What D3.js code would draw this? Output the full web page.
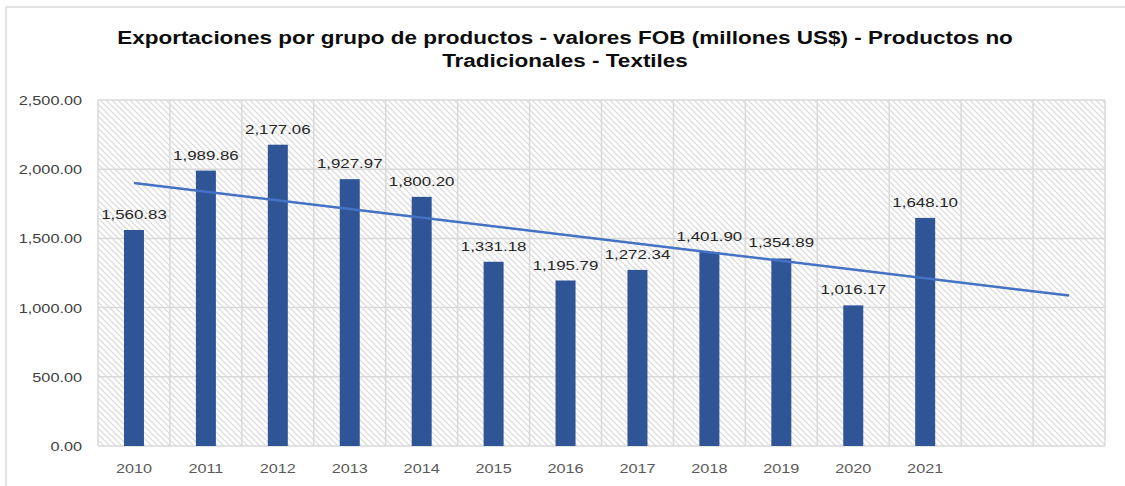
<!DOCTYPE html>
<html>
<head>
<meta charset="utf-8">
<script src="https://cdn.jsdelivr.net/npm/d3@7"></script>
<style>
  body { margin: 0; background: #fff; }
  text { font-family: "Liberation Sans", Arial, sans-serif; }
</style>
</head>
<body>
<svg id="chart" width="1125" height="486"></svg>
<script>
var years = ["2010","2011","2012","2013","2014","2015","2016","2017","2018","2019","2020","2021","",""];
var values = [1560.83, 1989.86, 2177.06, 1927.97, 1800.20, 1331.18, 1195.79, 1272.34, 1401.90, 1354.89, 1016.17, 1648.10];
var yTicks = [0, 500, 1000, 1500, 2000, 2500];
var titleLines = ["Exportaciones por grupo de productos - valores FOB (millones US$) - Productos no", "Tradicionales - Textiles"];

var svg = d3.select("#chart");
var margin = {left: 98, right: 20, top: 100, bottom: 40};
var width = 1125, height = 486;
var stretch = 1.25; // source picture is widened horizontally

function place(xf, yf) {
    return function(d, i) {
        return "translate(" + xf(d, i) + "," + yf(d, i) + ") scale(" + stretch + ",1)";
    };
}

// outer frame (only top & left visible)
svg.append("line").attr("x1", 6).attr("x2", 1125).attr("y1", 7).attr("y2", 7)
    .attr("stroke", "#d9d9d9").attr("stroke-width", 1.5);
svg.append("line").attr("x1", 6).attr("x2", 6).attr("y1", 7).attr("y2", 486)
    .attr("stroke", "#d9d9d9").attr("stroke-width", 1.5);

// hatch pattern
var defs = svg.append("defs");
var pat = defs.append("pattern")
    .attr("id", "hatch")
    .attr("patternUnits", "userSpaceOnUse")
    .attr("width", 6).attr("height", 6);
pat.append("path")
    .attr("d", "M-1,-1 L7,7 M-4,2 L2,8 M4,-2 L8,2")
    .attr("stroke", "#dcdcdc")
    .attr("stroke-width", 1.3);

var x = d3.scaleBand()
    .domain(d3.range(years.length))
    .range([margin.left, width - margin.right]);

var y = d3.scaleLinear()
    .domain([0, 2500])
    .range([446, margin.top]);

// plot background
svg.append("rect")
    .attr("x", x.range()[0]).attr("y", y(2500))
    .attr("width", x.range()[1] - x.range()[0])
    .attr("height", y(0) - y(2500))
    .attr("fill", "url(#hatch)");

// grid
svg.append("g").selectAll("line")
    .data(yTicks)
    .enter().append("line")
    .attr("x1", x.range()[0]).attr("x2", x.range()[1])
    .attr("y1", function(d) { return y(d); })
    .attr("y2", function(d) { return y(d); })
    .attr("stroke", "#d9d9d9").attr("stroke-width", 1.5);

svg.append("g").selectAll("line")
    .data(d3.range(years.length + 1))
    .enter().append("line")
    .attr("x1", function(d) { return x.range()[0] + d * x.step(); })
    .attr("x2", function(d) { return x.range()[0] + d * x.step(); })
    .attr("y1", y(0)).attr("y2", y(2500))
    .attr("stroke", "#d9d9d9").attr("stroke-width", 1.5);

// y axis labels
svg.append("g").selectAll("text")
    .data(yTicks)
    .enter().append("text")
    .attr("transform", place(function() { return 82; }, function(d) { return y(d) + 5; }))
    .attr("text-anchor", "end")
    .attr("font-size", 13)
    .attr("fill", "#404040")
    .text(function(d) { return d3.format(",.2f")(d); });

// x axis labels
svg.append("g").selectAll("text")
    .data(years)
    .enter().append("text")
    .attr("transform", place(function(d, i) { return x(i) + x.bandwidth() / 2; }, function() { return 473; }))
    .attr("text-anchor", "middle")
    .attr("font-size", 13)
    .attr("fill", "#595959")
    .text(function(d) { return d; });

// bars
var barW = 20;
svg.append("g").selectAll("rect")
    .data(values)
    .enter().append("rect")
    .attr("x", function(d, i) { return x(i) + x.bandwidth() / 2 - barW / 2; })
    .attr("y", function(d) { return y(d); })
    .attr("width", barW)
    .attr("height", function(d) { return y(0) - y(d); })
    .attr("fill", "#2F5597");

// linear trendline (least squares), extended 2 periods forward
var n = values.length;
var mx = d3.mean(d3.range(n)), my = d3.mean(values);
var sxy = d3.sum(values, function(v, i) { return (i - mx) * (v - my); });
var sxx = d3.sum(d3.range(n), function(i) { return (i - mx) * (i - mx); });
var slope = sxy / sxx, icpt = my - slope * mx;
var trendIdx = [0, years.length - 1];
svg.append("path")
    .datum(trendIdx)
    .attr("d", d3.line()
        .x(function(i) { return x(i) + x.bandwidth() / 2; })
        .y(function(i) { return y(icpt + slope * i); }))
    .attr("fill", "none")
    .attr("stroke", "#4472C4")
    .attr("stroke-width", 2.5);

// data labels
svg.append("g").selectAll("text")
    .data(values)
    .enter().append("text")
    .attr("transform", place(function(d, i) { return x(i) + x.bandwidth() / 2; }, function(d) { return y(d) - 11; }))
    .attr("text-anchor", "middle")
    .attr("font-size", 13.5)
    .attr("fill", "#262626")
    .text(function(d) { return d3.format(",.2f")(d); });

// title
svg.append("g").selectAll("text")
    .data(titleLines)
    .enter().append("text")
    .attr("transform", place(function() { return 565; }, function(d, i) { return 44 + i * 23; }))
    .attr("text-anchor", "middle")
    .attr("font-size", 18)
    .attr("font-weight", "bold")
    .attr("fill", "#0d0d0d")
    .text(function(d) { return d; });
</script>
</body>
</html>
